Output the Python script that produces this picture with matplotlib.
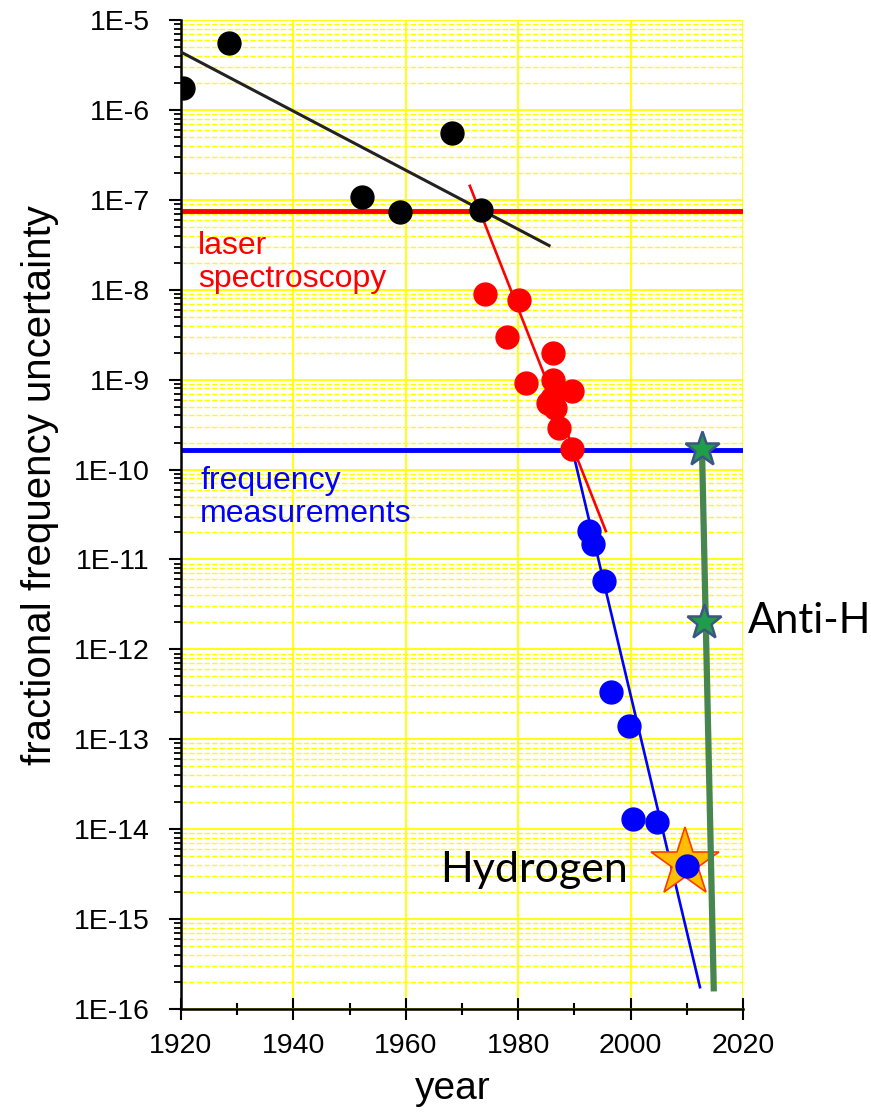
import numpy as np
import matplotlib
matplotlib.use("Agg")
import matplotlib.pyplot as plt
from matplotlib.ticker import LogLocator, FuncFormatter, MultipleLocator, NullFormatter

# early (pre-laser) measurements
old_year = [1920.4, 1928.5, 1952.2, 1959.0, 1968.2, 1973.4]
old_unc = [1.75e-6, 5.5e-6, 1.07e-7, 7.3e-8, 5.5e-7, 7.7e-8]

# laser spectroscopy
laser_year = [1974.1, 1980.1, 1978.0, 1986.2, 1981.4, 1986.2, 1989.6,
              1986.0, 1985.3, 1986.5, 1987.3, 1989.6]
laser_unc = [8.9e-9, 7.7e-9, 3.0e-9, 2.0e-9, 9.2e-10, 9.9e-10, 7.5e-10,
             6.2e-10, 5.5e-10, 4.8e-10, 2.9e-10, 1.7e-10]

# frequency measurements
freq_year = [1992.6, 1993.3, 1995.3, 1996.5, 1999.7, 2000.4, 2004.7, 2010.0]
freq_unc = [2.1e-11, 1.5e-11, 5.75e-12, 3.35e-13, 1.4e-13, 1.3e-14, 1.2e-14, 3.9e-15]

# trend lines (start, end)
old_fit_year, old_fit_unc = [1920.0, 1985.5], [4.4e-6, 3.1e-8]
laser_fit_year, laser_fit_unc = [1971.4, 1995.6], [1.43e-7, 2.07e-11]
freq_fit_year, freq_fit_unc = [1990.0, 2012.35], [1.34e-10, 1.75e-16]
antih_fit_year, antih_fit_unc = [2012.7, 2014.8], [1.78e-10, 1.7e-16]

# anti-hydrogen results
antih_year = [2012.7, 2013.0]
antih_unc = [1.7e-10, 2.0e-12]

# hydrogen 1S-2S highlight
h_year, h_unc = 2009.7, 4.2e-15

laser_limit = 7.5e-8
freq_limit = 1.65e-10

plt.rcParams['font.family'] = ['Liberation Sans', 'DejaVu Sans']

fig = plt.figure(figsize=(8.71, 11.12), dpi=100)
ax = fig.add_axes([0.2078, 0.0926, 0.8530 - 0.2078, 0.982 - 0.0926])

ax.set_yscale('log')
ax.set_xlim(1920, 2020)
ax.set_ylim(1e-16, 1e-5)

# grid
ax.xaxis.set_major_locator(MultipleLocator(20))
ax.xaxis.set_minor_locator(MultipleLocator(10))
ax.yaxis.set_major_locator(LogLocator(base=10, numticks=20))
ax.yaxis.set_minor_locator(LogLocator(base=10, subs=np.arange(2, 10), numticks=20))
ax.yaxis.set_major_formatter(FuncFormatter(lambda v, p: "1E%d" % int(round(np.log10(v)))))
ax.yaxis.set_minor_formatter(NullFormatter())

ax.grid(True, which='major', axis='both', color='#FFFF00', linewidth=1.3, zorder=0)
ax.grid(True, which='minor', axis='y', color='#FFFF00', linewidth=1.0,
        linestyle=(0, (4, 1.5)), zorder=0)
ax.set_axisbelow(True)

for s in ['top', 'right']:
    ax.spines[s].set_visible(False)
for s in ['left', 'bottom']:
    ax.spines[s].set_linewidth(1.8)

ax.tick_params(axis='x', which='major', direction='inout', length=16, width=1.5,
               labelsize=20.5, pad=9)
ax.tick_params(axis='x', which='minor', direction='inout', length=8.5, width=1.5)
ax.tick_params(axis='y', which='major', direction='out', length=8.5, width=1.5,
               labelsize=20.5, pad=14)
ax.tick_params(axis='y', which='minor', direction='out', length=5, width=1.3)

# horizontal limits
ax.axhline(laser_limit, color='#FF0000', linewidth=3.5, zorder=2)
ax.axhline(freq_limit, color='#0000FF', linewidth=3.5, zorder=2)

# trend lines
ax.plot(old_fit_year, old_fit_unc, color='#222222', linewidth=2.2, zorder=3)
ax.plot(laser_fit_year, laser_fit_unc, color='#FF0000', linewidth=1.9, zorder=3)
ax.plot(freq_fit_year, freq_fit_unc, color='#0000FF', linewidth=1.9, zorder=3)

# data points
ax.plot(old_year, old_unc, 'o', color='black', markersize=16.5, zorder=4)
ax.plot(laser_year, laser_unc, 'o', color='#FF0000', markersize=16.5, zorder=4)
ax.plot(h_year, h_unc, '*', markersize=52, markerfacecolor='#FFBE00',
        markeredgecolor='#FF3A00', markeredgewidth=1.2, zorder=4)
ax.plot(freq_year, freq_unc, 'o', color='#0000FF', markersize=16.5, zorder=5)

# anti-hydrogen
ax.plot(antih_fit_year, antih_fit_unc, color='#47874F', linewidth=4.5, zorder=6)
ax.plot(antih_year, antih_unc, '*', markersize=26, markerfacecolor='#1E9E48',
        markeredgecolor='#3C5585', markeredgewidth=1.8, zorder=7)

# labels
ax.text(1923.0, 2.0e-8, "laser\nspectroscopy", color='#FF0000', fontsize=23,
        ha='left', va='center', linespacing=1.15, zorder=8)
ax.text(1923.4, 4.9e-11, "frequency\nmeasurements", color='#0000FF', fontsize=23,
        ha='left', va='center', linespacing=1.15, zorder=8)
ax.text(1999.5, 2.6e-15, "Hydrogen", color='black', fontsize=31, family='Lato',
        ha='right', va='baseline', zorder=8)
ax.text(2020.9, 1.52e-12, "Anti-H", color='black', fontsize=30, family='Lato',
        ha='left', va='baseline', clip_on=False, zorder=8)

ax.set_ylabel("fractional frequency uncertainty", fontsize=29)
ax.yaxis.set_label_coords(-0.217, 0.53)
ax.set_xlabel("year", fontsize=28)
ax.xaxis.set_label_coords(0.484, -0.063)

# no gridline on the right edge
ax.xaxis.get_gridlines()[-1].set_visible(False)

fig.savefig("out.png", dpi=100, facecolor='white')
